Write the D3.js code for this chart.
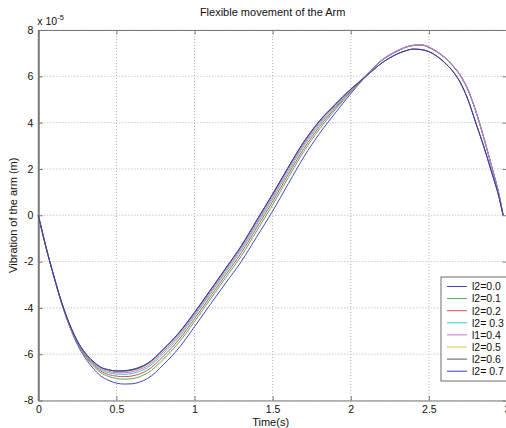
<!DOCTYPE html>
<html>
<head>
<meta charset="utf-8">
<script src="https://cdn.jsdelivr.net/npm/d3@7"></script>
<style>
  html, body { margin: 0; padding: 0; background: #fff; overflow: hidden; }
  svg { display: block; font-family: "Liberation Sans", Arial, sans-serif; }
</style>
</head>
<body>
<svg id="chart" width="506" height="428"></svg>
<script>
// Values in units of 1e-5 m
const time = [0, 0.05, 0.1, 0.15, 0.2, 0.25, 0.3, 0.35, 0.4, 0.45, 0.5, 0.55, 0.6, 0.65, 0.7, 0.8, 0.9, 1.0, 1.1, 1.2, 1.3, 1.4, 1.5, 1.6, 1.7, 1.8, 1.9, 2.0, 2.1, 2.2, 2.3, 2.35, 2.4, 2.45, 2.5, 2.55, 2.6, 2.65, 2.7, 2.75, 2.8, 2.85, 2.9, 2.95, 2.975];

const l2_00 = [0, -1.4, -2.66, -3.83, -4.80, -5.58, -6.16, -6.60, -6.94, -7.13, -7.25, -7.29, -7.28, -7.20, -7.05, -6.46, -5.73, -4.81, -3.86, -2.92, -1.99, -0.91, 0.18, 1.36, 2.52, 3.53, 4.41, 5.25, 6.03, 6.69, 7.09, 7.25, 7.33, 7.35, 7.25, 7.06, 6.81, 6.47, 6.04, 5.41, 4.49, 3.37, 2.14, 0.84, 0];
const l2_01 = [0, -1.4, -2.65, -3.81, -4.76, -5.52, -6.08, -6.49, -6.80, -6.96, -7.05, -7.08, -7.06, -6.97, -6.81, -6.22, -5.49, -4.59, -3.64, -2.69, -1.75, -0.65, 0.45, 1.62, 2.76, 3.72, 4.55, 5.32, 6.04, 6.70, 7.10, 7.25, 7.33, 7.35, 7.25, 7.07, 6.82, 6.48, 6.05, 5.42, 4.50, 3.38, 2.15, 0.85, 0];
const l2_02 = [0, -1.4, -2.65, -3.80, -4.75, -5.49, -6.04, -6.44, -6.73, -6.88, -6.95, -6.97, -6.94, -6.85, -6.69, -6.09, -5.37, -4.47, -3.52, -2.57, -1.62, -0.51, 0.59, 1.76, 2.88, 3.83, 4.62, 5.36, 6.05, 6.70, 7.10, 7.26, 7.34, 7.36, 7.26, 7.07, 6.82, 6.48, 6.05, 5.42, 4.50, 3.38, 2.15, 0.85, 0];
const l2_03 = [0, -1.4, -2.65, -3.79, -4.73, -5.47, -6.00, -6.38, -6.67, -6.80, -6.86, -6.87, -6.83, -6.74, -6.58, -5.97, -5.26, -4.36, -3.41, -2.46, -1.50, -0.39, 0.71, 1.88, 3.00, 3.92, 4.68, 5.39, 6.06, 6.71, 7.11, 7.26, 7.34, 7.36, 7.26, 7.08, 6.83, 6.49, 6.06, 5.43, 4.51, 3.39, 2.16, 0.86, 0];
const l1_04 = [0, -1.4, -2.64, -3.78, -4.72, -5.45, -5.98, -6.35, -6.62, -6.74, -6.80, -6.80, -6.76, -6.66, -6.50, -5.89, -5.18, -4.29, -3.34, -2.38, -1.42, -0.31, 0.80, 1.97, 3.07, 3.99, 4.73, 5.42, 6.07, 6.71, 7.11, 7.26, 7.34, 7.36, 7.26, 7.08, 6.83, 6.49, 6.06, 5.43, 4.51, 3.39, 2.16, 0.86, 0];
const l2_05 = [0, -1.4, -2.64, -3.78, -4.71, -5.44, -5.96, -6.32, -6.59, -6.70, -6.75, -6.75, -6.70, -6.61, -6.44, -5.83, -5.12, -4.23, -3.28, -2.33, -1.36, -0.24, 0.87, 2.03, 3.13, 4.04, 4.76, 5.44, 6.02, 6.59, 6.98, 7.11, 7.18, 7.16, 7.07, 6.88, 6.60, 6.25, 5.75, 5.00, 4.00, 3.00, 1.90, 0.75, 0];
const l2_06 = [0, -1.4, -2.64, -3.78, -4.70, -5.43, -5.95, -6.31, -6.57, -6.68, -6.73, -6.73, -6.68, -6.58, -6.41, -5.80, -5.09, -4.21, -3.26, -2.30, -1.33, -0.21, 0.90, 2.06, 3.16, 4.06, 4.78, 5.44, 6.01, 6.58, 6.97, 7.10, 7.18, 7.16, 7.07, 6.88, 6.60, 6.25, 5.75, 5.00, 4.00, 3.00, 1.90, 0.75, 0];
const l2_07 = [0, -1.4, -2.64, -3.78, -4.70, -5.43, -5.94, -6.30, -6.56, -6.67, -6.72, -6.71, -6.66, -6.56, -6.39, -5.78, -5.07, -4.19, -3.24, -2.28, -1.31, -0.19, 0.92, 2.08, 3.18, 4.08, 4.79, 5.45, 6.01, 6.58, 6.97, 7.10, 7.17, 7.15, 7.06, 6.87, 6.59, 6.24, 5.74, 4.99, 3.99, 2.99, 1.89, 0.74, 0];

const seriesNames = ["l2=0.0", "l2=0.1", "l2=0.2", "l2= 0.3", "l1=0.4", "l2=0.5", "l2=0.6", "l2= 0.7"];
const seriesValues = [l2_00, l2_01, l2_02, l2_03, l1_04, l2_05, l2_06, l2_07];
const seriesColors = ["#4646c4", "#5aa85a", "#d45050", "#3cc4c4", "#d070d0", "#cccc50", "#5a5a5a", "#3838c0"];

const xTicks = [0, 0.5, 1, 1.5, 2, 2.5, 3];
const xTickLabels = ["0", "0.5", "1", "1.5", "2", "2.5", "3"];
const yTicks = [-8, -6, -4, -2, 0, 2, 4, 6, 8];
const yTickLabels = ["-8", "-6", "-4", "-2", "0", "2", "4", "6", "8"];

const title = "Flexible movement of the Arm";
const xLabel = "Time(s)";
const yLabel = "Vibration of the arm (m)";

const svg = d3.select("#chart");
const L = 38.3, R = 507, T = 30, B = 400.5;

const x = d3.scaleLinear().domain([0, 3]).range([L, R]);
const y = d3.scaleLinear().domain([-8, 8]).range([B, T]);

const axisColor = "#7a7a7a";
const gridColor = "#b4b4b4";

// grid
const grid = svg.append("g");
xTicks.forEach(t => {
  grid.append("line").attr("x1", x(t)).attr("x2", x(t)).attr("y1", T).attr("y2", B)
    .attr("stroke", gridColor).attr("stroke-width", 1).attr("stroke-dasharray", "1,2");
});
yTicks.forEach(t => {
  grid.append("line").attr("x1", L).attr("x2", R).attr("y1", y(t)).attr("y2", y(t))
    .attr("stroke", gridColor).attr("stroke-width", 1).attr("stroke-dasharray", "1,2");
});

// axes with inward ticks
const tickLen = 4.5;
const axB = svg.append("g").attr("transform", `translate(0,${B})`)
  .call(d3.axisBottom(x).tickValues(xTicks).tickFormat((d, i) => xTickLabels[i]).tickSizeInner(-tickLen).tickSizeOuter(0).tickPadding(5));
const axT = svg.append("g").attr("transform", `translate(0,${T})`)
  .call(d3.axisTop(x).tickValues(xTicks).tickFormat("").tickSizeInner(-tickLen).tickSizeOuter(0));
const axL = svg.append("g").attr("transform", `translate(${L},0)`)
  .call(d3.axisLeft(y).tickValues(yTicks).tickFormat((d, i) => yTickLabels[i]).tickSizeInner(-tickLen).tickSizeOuter(0).tickPadding(5));
const axR = svg.append("g").attr("transform", `translate(${R},0)`)
  .call(d3.axisRight(y).tickValues(yTicks).tickFormat("").tickSizeInner(-tickLen).tickSizeOuter(0));

[axB, axT, axL, axR].forEach(a => {
  a.select(".domain").attr("stroke", axisColor).attr("stroke-width", 1.2);
  a.selectAll(".tick line").attr("stroke", axisColor).attr("stroke-width", 1);
  a.selectAll("text").attr("fill", "#111").attr("font-size", "10.5px")
    .attr("font-family", '"Liberation Sans", Arial, sans-serif');
});
axL.select(".domain").attr("stroke-width", 2);

// curves
const line = d3.line()
  .x((d, i) => x(time[i]))
  .y(d => y(d))
  .curve(d3.curveMonotoneX);

const plot = svg.append("g");
seriesValues.forEach((vals, k) => {
  plot.append("path").datum(vals).attr("d", line)
    .attr("fill", "none").attr("stroke", seriesColors[k]).attr("stroke-width", 1);
});

// exponent label
const ex = svg.append("text").attr("x", L - 1).attr("y", 25).attr("font-size", "10.5px").attr("fill", "#111");
ex.append("tspan").text("x 10");
ex.append("tspan").attr("dy", -5).attr("font-size", "7.5px").text("-5");

// title
svg.append("text").attr("x", (L + R) / 2).attr("y", 16).attr("text-anchor", "middle")
  .attr("font-size", "11px").attr("fill", "#111").text(title);

// x label
svg.append("text").attr("x", (L + R) / 2 - 2).attr("y", 426).attr("text-anchor", "middle")
  .attr("font-size", "11px").attr("fill", "#111").text(xLabel);

// y label
svg.append("text").attr("transform", `translate(17,${(T + B) / 2}) rotate(-90)`).attr("text-anchor", "middle")
  .attr("font-size", "11px").attr("fill", "#111").text(yLabel);

// legend
const lg = svg.append("g");
const lgX = 441, lgY = 277, lgH = 104;
lg.append("rect").attr("x", lgX).attr("y", lgY).attr("width", 75).attr("height", lgH)
  .attr("fill", "#fff").attr("stroke", "#6e6e6e").attr("stroke-width", 1);
seriesNames.forEach((name, k) => {
  const yy = lgY + 9.5 + k * 12.1;
  lg.append("line").attr("x1", lgX + 6).attr("x2", lgX + 26).attr("y1", yy).attr("y2", yy)
    .attr("stroke", seriesColors[k]).attr("stroke-width", 1);
  lg.append("text").attr("x", lgX + 31).attr("y", yy + 3.8).attr("font-size", "10.5px")
    .attr("fill", "#111").text(name);
});
</script>
</body>
</html>
